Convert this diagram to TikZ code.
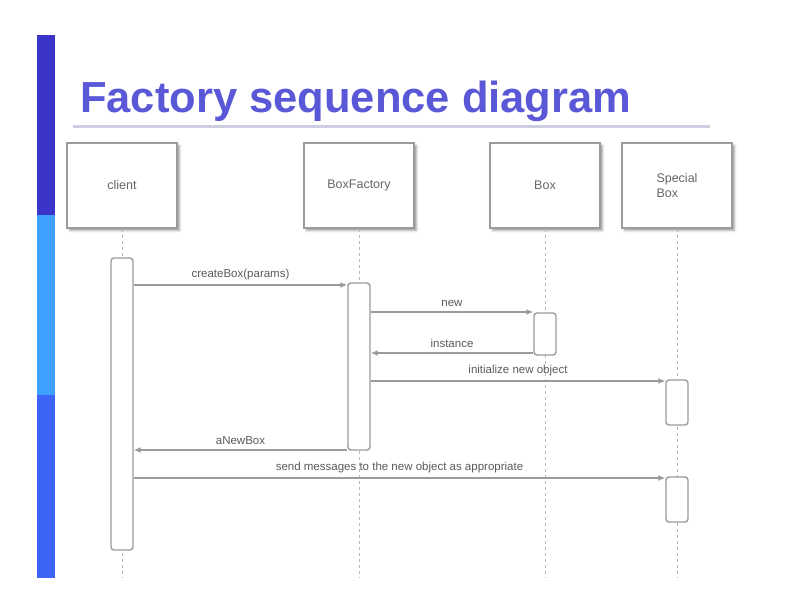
\documentclass[tikz,border=0pt]{standalone}
\usepackage{fontspec}
\setmainfont{Liberation Sans}
\usetikzlibrary{arrows.meta,positioning,calc,shadows.blur}
\definecolor{titleblue}{RGB}{90,88,215}
\definecolor{bardark}{RGB}{58,52,200}
\definecolor{barlight}{RGB}{62,160,255}
\definecolor{barmid}{RGB}{62,100,245}
\definecolor{rulegray}{RGB}{205,205,225}
\definecolor{linegray}{RGB}{155,155,155}
\definecolor{lifegray}{RGB}{185,185,185}

\begin{document}
\begin{tikzpicture}[x=1pt, y=-1pt,
    head/.style={draw=linegray, line width=1.8pt, fill=white,
                 minimum width=110pt, minimum height=85pt, align=left,
                 font=\fontsize{12.5}{15}\selectfont, text=black!60,
                 blur shadow={shadow xshift=2.5pt, shadow yshift=-2.5pt}},
    act/.style={draw=linegray, line width=1.4pt, fill=white,
                rounded corners=3pt, minimum width=22pt, inner sep=0pt},
    life/.style={draw=lifegray, dashed, line width=1pt},
    msg/.style={draw=linegray, line width=1.4pt, -{Latex[length=7pt,width=6pt]}},
    lbl/.style={midway, above=1pt, font=\fontsize{11.5}{13}\selectfont, text=black!65}
]
    \useasboundingbox (0,0) rectangle (792,612);

    % slide decoration
    \fill[bardark]  (37,35)  rectangle (55,215);
    \fill[barlight] (37,215) rectangle (55,395);
    \fill[barmid]   (37,395) rectangle (55,578);
    \node[anchor=base west, inner sep=0pt, text=titleblue,
          font=\fontsize{43.5}{50}\bfseries\selectfont] (title) at (80,113)
          {Factory sequence diagram};
    \draw[rulegray, line width=3pt] (73,127) -- (710,127);

    % lifeline heads
    \node[head] (client)  at (122,185.5) {client};
    \node[head] (factory) at (359,185.5) {BoxFactory};
    \node[head] (box)     at (545,185.5) {Box};
    \node[head] (special) at (677,185.5) {Special\\Box};

    \coordinate (clientEnd)  at (122,578);
    \coordinate (factoryEnd) at (359,578);
    \coordinate (boxEnd)     at (545,578);
    \coordinate (specialEnd) at (677,578);

    \draw[life] (client)  -- (clientEnd);
    \draw[life] (factory) -- (factoryEnd);
    \draw[life] (box)     -- (boxEnd);
    \draw[life] (special) -- (specialEnd);

    % activations
    \node[act, minimum height=292pt] (clientAct)   at (122,404)   {};
    \node[act, minimum height=167pt] (factoryAct)  at (359,366.5) {};
    \node[act, minimum height=42pt]  (boxAct)      at (545,334)   {};
    \node[act, minimum height=45pt]  (specialAct)  at (677,402.5) {};
    \node[act, minimum height=45pt]  (specialAct2) at (677,499.5) {};

    % messages
    \draw[msg] (clientAct.east |- 0,285)  -- (factoryAct.west |- 0,285)  node[lbl] {createBox(params)};
    \draw[msg] (factoryAct.east |- 0,312) -- (boxAct.west |- 0,312)      node[lbl] {new};
    \draw[msg] (boxAct.west |- 0,353)     -- (factoryAct.east |- 0,353)  node[lbl] {instance};
    \draw[msg] (factoryAct.east |- 0,381) -- (specialAct.west |- 0,381)  node[lbl] {initialize new object};
    \draw[msg] (factoryAct.west |- 0,450) -- (clientAct.east |- 0,450)   node[lbl] {aNewBox};
    \draw[msg] (clientAct.east |- 0,478)  -- (specialAct2.west |- 0,478) node[lbl] {send messages to the new object as appropriate};
\end{tikzpicture}
\end{document}
